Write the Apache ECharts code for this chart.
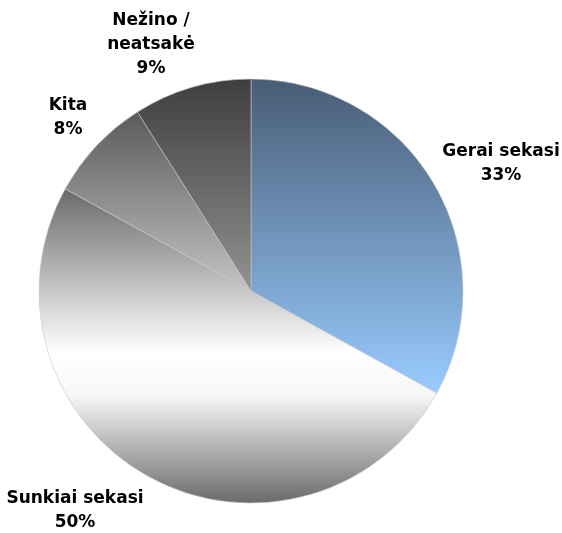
<!DOCTYPE html>
<html>
<head>
<meta charset="utf-8">
<script src="https://cdn.jsdelivr.net/npm/echarts@6/dist/echarts.min.js"></script>
<style>
  html, body { margin: 0; padding: 0; background: #ffffff; }
  #chart { width: 562px; height: 533px; }
</style>
</head>
<body>
<div id="chart"></div>
<script>
// Answer categories and their shares (%)
const categories = ['Gerai sekasi', 'Sunkiai sekasi', 'Kita', 'Nežino /\nneatsakė'];
const shares = [33, 50, 8, 9];

// Vertical gradient stops for each slice
const sliceGradients = [
  [[0, '#485c75'], [1, '#99ccff']],
  [[0, '#6a6a6a'], [0.52, '#ffffff'], [0.66, '#f6f6f6'], [1, '#6a6a6a']],
  [[0, '#5a5a5a'], [1, '#c4c4c4']],
  [[0, '#3e3e3e'], [1, '#929292']]
];

// Label anchor points (centre of each text block)
const labelSpots = [[501, 164], [75, 511], [68, 118], [151, 45]];

const chart = echarts.init(document.getElementById('chart'), null, { renderer: 'canvas' });

const data = categories.map((name, i) => ({
  name: name,
  value: shares[i],
  itemStyle: {
    color: new echarts.graphic.LinearGradient(0, 0, 0, 1,
      sliceGradients[i].map(s => ({ offset: s[0], color: s[1] })))
  }
}));

chart.setOption({
  animation: false,
  backgroundColor: '#ffffff',
  series: [{
    type: 'pie',
    center: [251, 291],
    radius: 212,
    startAngle: 90,
    clockwise: true,
    data: data,
    itemStyle: { borderColor: '#c8c8c8', borderWidth: 0.6 },
    label: {
      show: true,
      position: 'outside',
      alignTo: 'none',
      overflow: 'none',
      formatter: p => p.name + '\n' + p.value + '%',
      fontFamily: 'DejaVu Sans',
      fontWeight: 'bold',
      fontSize: 17,
      lineHeight: 24,
      color: '#000000',
      align: 'center'
    },
    labelLine: { show: false },
    labelLayout: p => ({
      x: labelSpots[p.dataIndex][0],
      y: labelSpots[p.dataIndex][1],
      align: 'center',
      verticalAlign: 'middle',
      hideOverlap: false
    }),
    emphasis: { disabled: true }
  }]
});
</script>
</body>
</html>
